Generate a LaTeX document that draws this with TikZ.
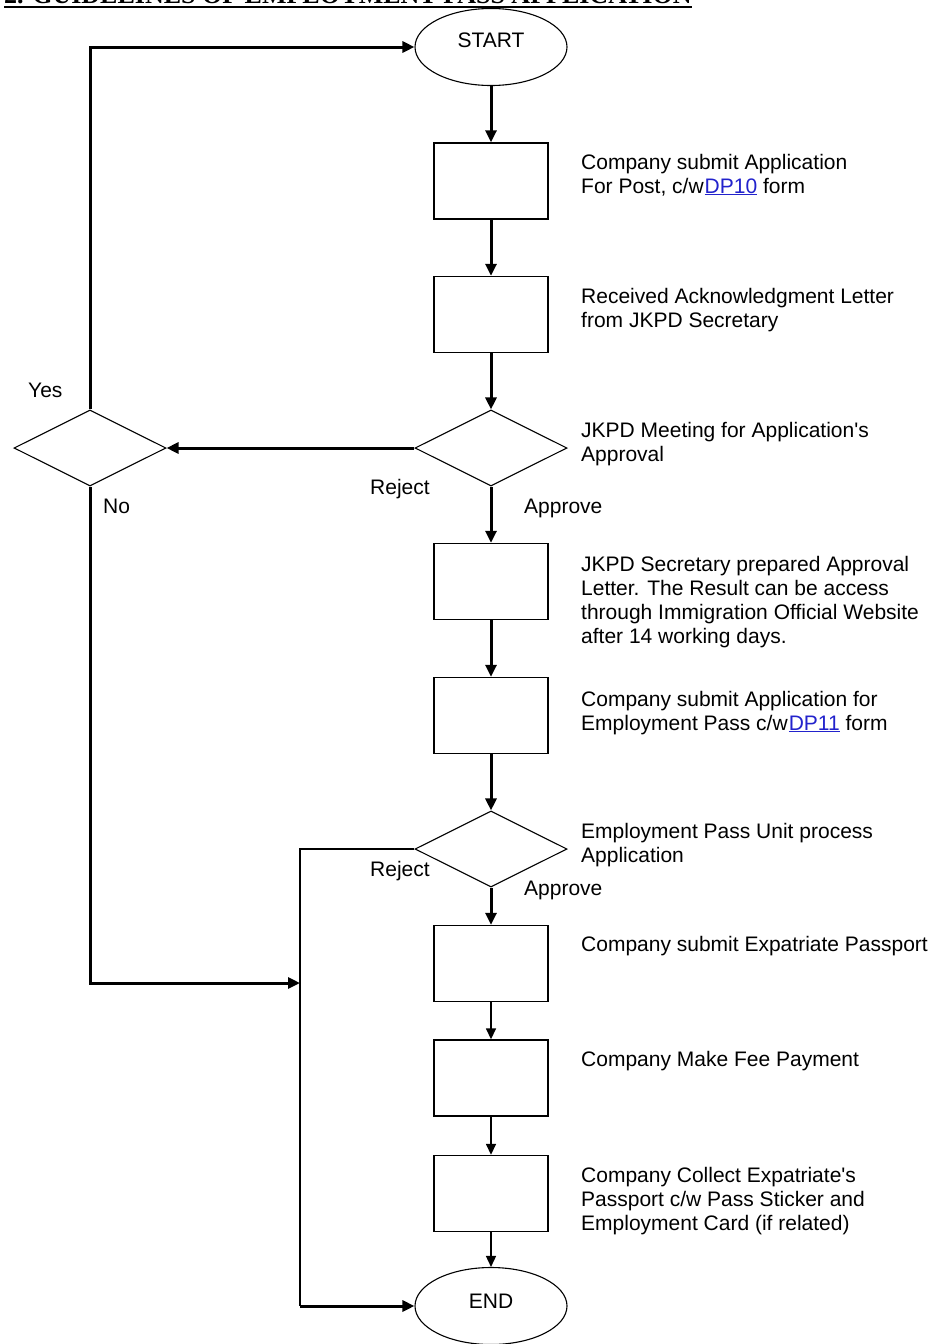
\documentclass[tikz,border=0pt]{standalone}
\usepackage{fontspec}
\setmainfont{Liberation Sans}
\newfontfamily\titlefont{Liberation Serif}
\usetikzlibrary{shapes.geometric,arrows.meta}
\definecolor{linkblue}{RGB}{34,34,204}
\newcommand{\lnk}[1]{\textcolor{linkblue}{\underline{#1}}}
\begin{document}
\begin{tikzpicture}[x=1pt,y=-1pt,
  stepbox/.style={draw,line width=1.4pt,minimum width=114pt,minimum height=76pt,inner sep=0},
  termin/.style={draw,ellipse,line width=1.1pt,minimum width=152pt,minimum height=77pt,inner sep=0,font=\fontsize{21}{24}\selectfont},
  decide/.style={draw,diamond,aspect=2,line width=1.1pt,minimum width=152pt,minimum height=76pt,inner sep=0},
  txt/.style={anchor=base west,inner sep=0,font=\fontsize{21}{24}\selectfont},
  lbl/.style={anchor=base,inner sep=0,font=\fontsize{21}{24}\selectfont},
  thick arrow/.style={line width=3pt,-{Triangle[length=12pt,width=11pt]}},
  thin arrow/.style={line width=1.5pt,-{Triangle[length=11pt,width=10pt]}},
  thin line/.style={line width=1.5pt},
  thick line/.style={line width=3pt}]
\useasboundingbox[fill=white] (0,0) rectangle (931,1344);

% title (mostly cut off at the top)
\node[anchor=base west,inner sep=0,font=\titlefont\bfseries\fontsize{26}{28}\selectfont] (title) at (4,3) {2. GUIDELINES OF EMPLOYMENT PASS APPLICATION};
\draw[line width=2pt] ([yshift=-4pt]title.base west) -- ([yshift=-4pt]title.base east);

% shapes
\node[termin] (start) at (491,47) {\raisebox{13pt}{START}};
\node[stepbox] (b1) at (491,181) {};
\node[stepbox] (b2) at (491,314.5) {};
\node[decide] (d1) at (491,448) {};
\node[decide] (ld) at (90,448) {};
\node[stepbox] (b3) at (491,581.5) {};
\node[stepbox] (b4) at (491,715.5) {};
\node[decide] (d2) at (491,849) {};
\node[stepbox] (b5) at (491,963.5) {};
\node[stepbox] (b6) at (491,1078) {};
\node[stepbox] (b7) at (491,1193.5) {};
\node[termin] (end) at (491,1306) {\raisebox{10pt}{END}};

\coordinate (yescorner) at (90,47);
\coordinate (nocorner) at (90,983);
\coordinate (bus) at (300,983);
\coordinate (rejtop) at (300,849);
\coordinate (rejbot) at (300,1306);

% connectors
\draw[thick arrow] (start) -- (b1);
\draw[thick arrow] (b1) -- (b2);
\draw[thick arrow] (b2) -- (d1);
\draw[thick arrow] (d1.west) -- (ld.east);
\draw[thick arrow] (ld.north) -- (yescorner) -- (start.west);
\draw[thick arrow] (ld.south) -- (nocorner) -- (bus);
\draw[thick arrow] (d1.south) -- (b3.north);
\draw[thick arrow] (b3) -- (b4);
\draw[thick arrow] (b4) -- (d2);
\draw[thick arrow] (d2.south) -- (b5.north);
\draw[thin arrow] (b5) -- (b6);
\draw[thin arrow] (b6) -- (b7);
\draw[thin arrow] (b7) -- (end);
\draw[thin line] (d2.west) -- (rejtop) -- (rejbot);
\draw[thick arrow] (rejbot) -- (end.west);

% branch labels
\node[txt] (yes) at (28,397) {Yes};
\node[txt] (no) at (103,513) {No};
\node[lbl] (rej1) at (400,494) {Reject};
\node[txt] (app1) at (524,513) {Approve};
\node[lbl] (rej2) at (400,876) {Reject};
\node[txt] (app2) at (524,895) {Approve};

% descriptions
\node[txt] (t1a) at (581,169) {Company submit Application};
\node[txt] (t1b) at (581,193) {For Post, c/w\hspace{1pt}\lnk{DP10} form};
\node[txt] (t2a) at (581,303) {Received Acknowledgment Letter};
\node[txt] (t2b) at (581,327) {from JKPD Secretary};
\node[txt] (t3a) at (581,437) {JKPD Meeting for Application\textquotesingle s};
\node[txt] (t3b) at (581,461) {Approval};
\node[txt] (t4a) at (581,571) {JKPD Secretary prepared Approval};
\node[txt] (t4b) at (581,595) {Letter. The Result can be access};
\node[txt] (t4c) at (581,619) {through Immigration Official Website};
\node[txt] (t4d) at (581,643) {after 14 working days.};
\node[txt] (t5a) at (581,706) {Company submit Application for};
\node[txt] (t5b) at (581,730) {Employment Pass c/w\hspace{1pt}\lnk{DP11} form};
\node[txt] (t6a) at (581,838) {Employment Pass Unit process};
\node[txt] (t6b) at (581,862) {Application};
\node[txt] (t7a) at (581,951) {Company submit Expatriate Passport};
\node[txt] (t8a) at (581,1066) {Company Make Fee Payment};
\node[txt] (t9a) at (581,1182) {Company Collect Expatriate\textquotesingle s};
\node[txt] (t9b) at (581,1206) {Passport c/w Pass Sticker and};
\node[txt] (t9c) at (581,1230) {Employment Card (if related)};
\end{tikzpicture}
\end{document}
